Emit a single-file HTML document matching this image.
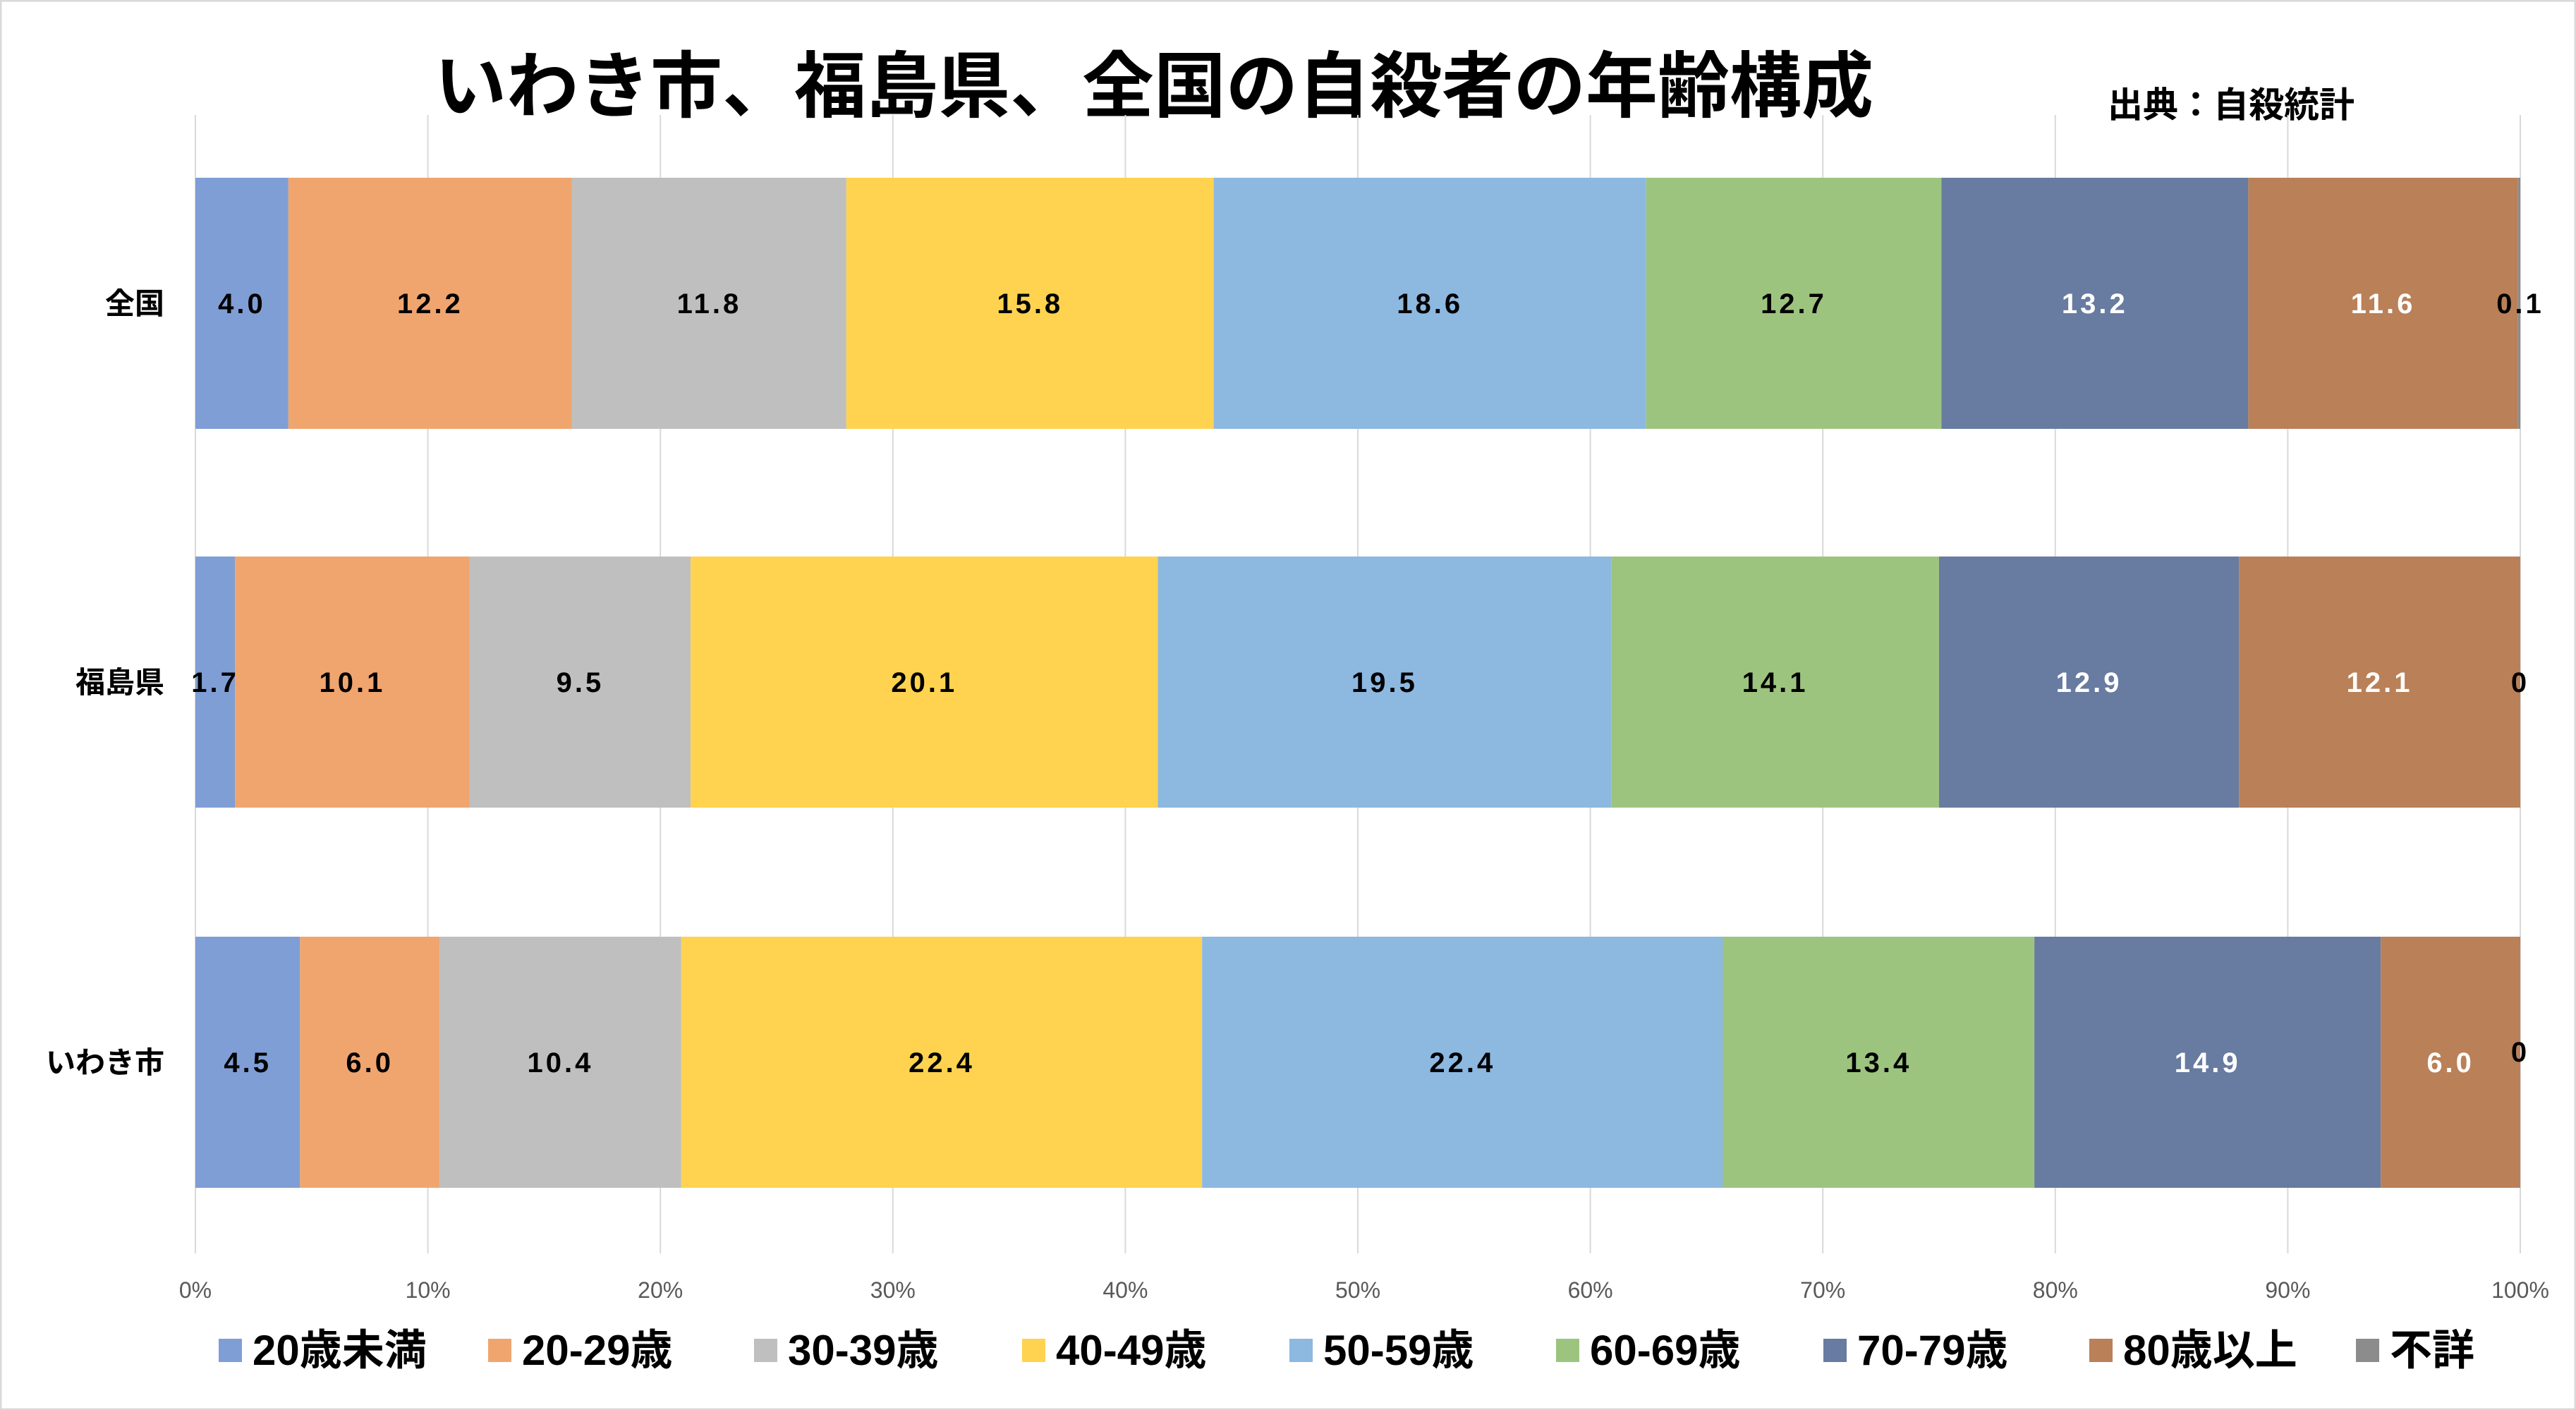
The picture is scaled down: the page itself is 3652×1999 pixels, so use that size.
<!DOCTYPE html>
<html><head><meta charset="utf-8"><style>
html,body{margin:0;padding:0;background:#fff}
svg{display:block}
text{font-family:"Liberation Sans","Noto Sans CJK JP",sans-serif}
</style></head><body>
<svg id="chart" width="3652" height="1999" viewBox="0 0 3652 1999" xmlns="http://www.w3.org/2000/svg">
<rect x="1" y="1" width="3650" height="1997" fill="#fff" stroke="#d9d9d9" stroke-width="3"/>
<text x="1636" y="158" text-anchor="middle" font-size="102" font-weight="bold" fill="#000">いわき市、福島県、全国の自殺者の年齢構成</text>
<text x="3163" y="166" text-anchor="middle" font-size="50" font-weight="bold" fill="#000">出典：自殺統計</text>
<g id="grid"></g><g id="bars"></g><g id="labels"></g><g id="legend"></g>
</svg>
<script>
const categories = ["全国", "福島県", "いわき市"];
const seriesNames = ["20歳未満", "20-29歳", "30-39歳", "40-49歳", "50-59歳", "60-69歳", "70-79歳", "80歳以上", "不詳"];
const s20u = [4.0, 1.7, 4.5];
const s20 = [12.2, 10.1, 6.0];
const s30 = [11.8, 9.5, 10.4];
const s40 = [15.8, 20.1, 22.4];
const s50 = [18.6, 19.5, 22.4];
const s60 = [12.7, 14.1, 13.4];
const s70 = [13.2, 12.9, 14.9];
const s80 = [11.6, 12.1, 6.0];
const sUnk = [0.1, 0, 0];
const tickLabels = ["0%", "10%", "20%", "30%", "40%", "50%", "60%", "70%", "80%", "90%", "100%"];
const series = [s20u, s20, s30, s40, s50, s60, s70, s80, sUnk];
const colors = ["#7f9ed5", "#f0a56f", "#bfbfbf", "#ffd34f", "#8db8e0", "#9dc47f", "#687ba0", "#ba8058", "#8c8c8c"];
const labelColors = ["#000","#000","#000","#000","#000","#000","#fff","#fff","#000"];
const NS = "http://www.w3.org/2000/svg";
const X0 = 277, X1 = 3573, YT = 163, YB = 1777;
const bandTop = [252, 789, 1328], barH = 356;
const x = p => X0 + (X1 - X0) * p / 100;
function mk(tag, attrs, parent) { const e = document.createElementNS(NS, tag); for (const k in attrs) e.setAttribute(k, attrs[k]); parent.appendChild(e); return e; }
const grid = document.getElementById("grid");
tickLabels.forEach((t, i) => {
  const gx = x(i * 10);
  const l = mk("line", {x1: gx, x2: gx, y1: YT, y2: YB, stroke: "#d9d9d9", "stroke-width": 2}, grid);
  
  
  const tx = mk("text", {x: gx, y: 1840, "text-anchor": "middle", "font-size": 32, fill: "#595959"}, grid);
  tx.textContent = t;
  
  
});
const bars = document.getElementById("bars"), labels = document.getElementById("labels");
categories.forEach((c, ci) => {
  const total = series.reduce((a, s) => a + s[ci], 0);
  let acc = 0;
  const yc = bandTop[ci] + barH / 2;
  const cl = mk("text", {x: 233, y: yc + 15, "text-anchor": "end", "font-size": 42, "font-weight": "bold", fill: "#000"}, labels);
  cl.textContent = c;
  
  
  series.forEach((s, si) => {
    const v = s[ci];
    const xa = x(acc / total * 100), xb = x((acc + v) / total * 100);
    acc += v;
    const r = mk("rect", {x: xa, y: bandTop[ci], width: Math.max(0, xb - xa), height: barH, fill: colors[si]}, bars);
    
    
    const lx = si === 8 ? X1 : (xa + xb) / 2;
    const ly = (si === 8 && ci === 2) ? yc - 15 : yc;
    const t = mk("text", {x: lx, y: ly + 14, "text-anchor": "middle", "font-size": 40, "font-weight": "bold", fill: labelColors[si], "letter-spacing": 4}, labels);
    t.textContent = si === 8 ? String(v) : v.toFixed(1);
    
    
  });
});
const legend = document.getElementById("legend");
const legX = [310, 692, 1069, 1449, 1828, 2206, 2585, 2962, 3340];
seriesNames.forEach((n, i) => {
  const g = mk("g", {}, legend);
  
  
  mk("rect", {x: legX[i], y: 1898, width: 33, height: 33, fill: colors[i]}, g);
  const t = mk("text", {x: legX[i] + 48, y: 1935, "font-size": 60, "font-weight": "bold", fill: "#000"}, g);
  t.textContent = n;
});
</script>
</body></html>
